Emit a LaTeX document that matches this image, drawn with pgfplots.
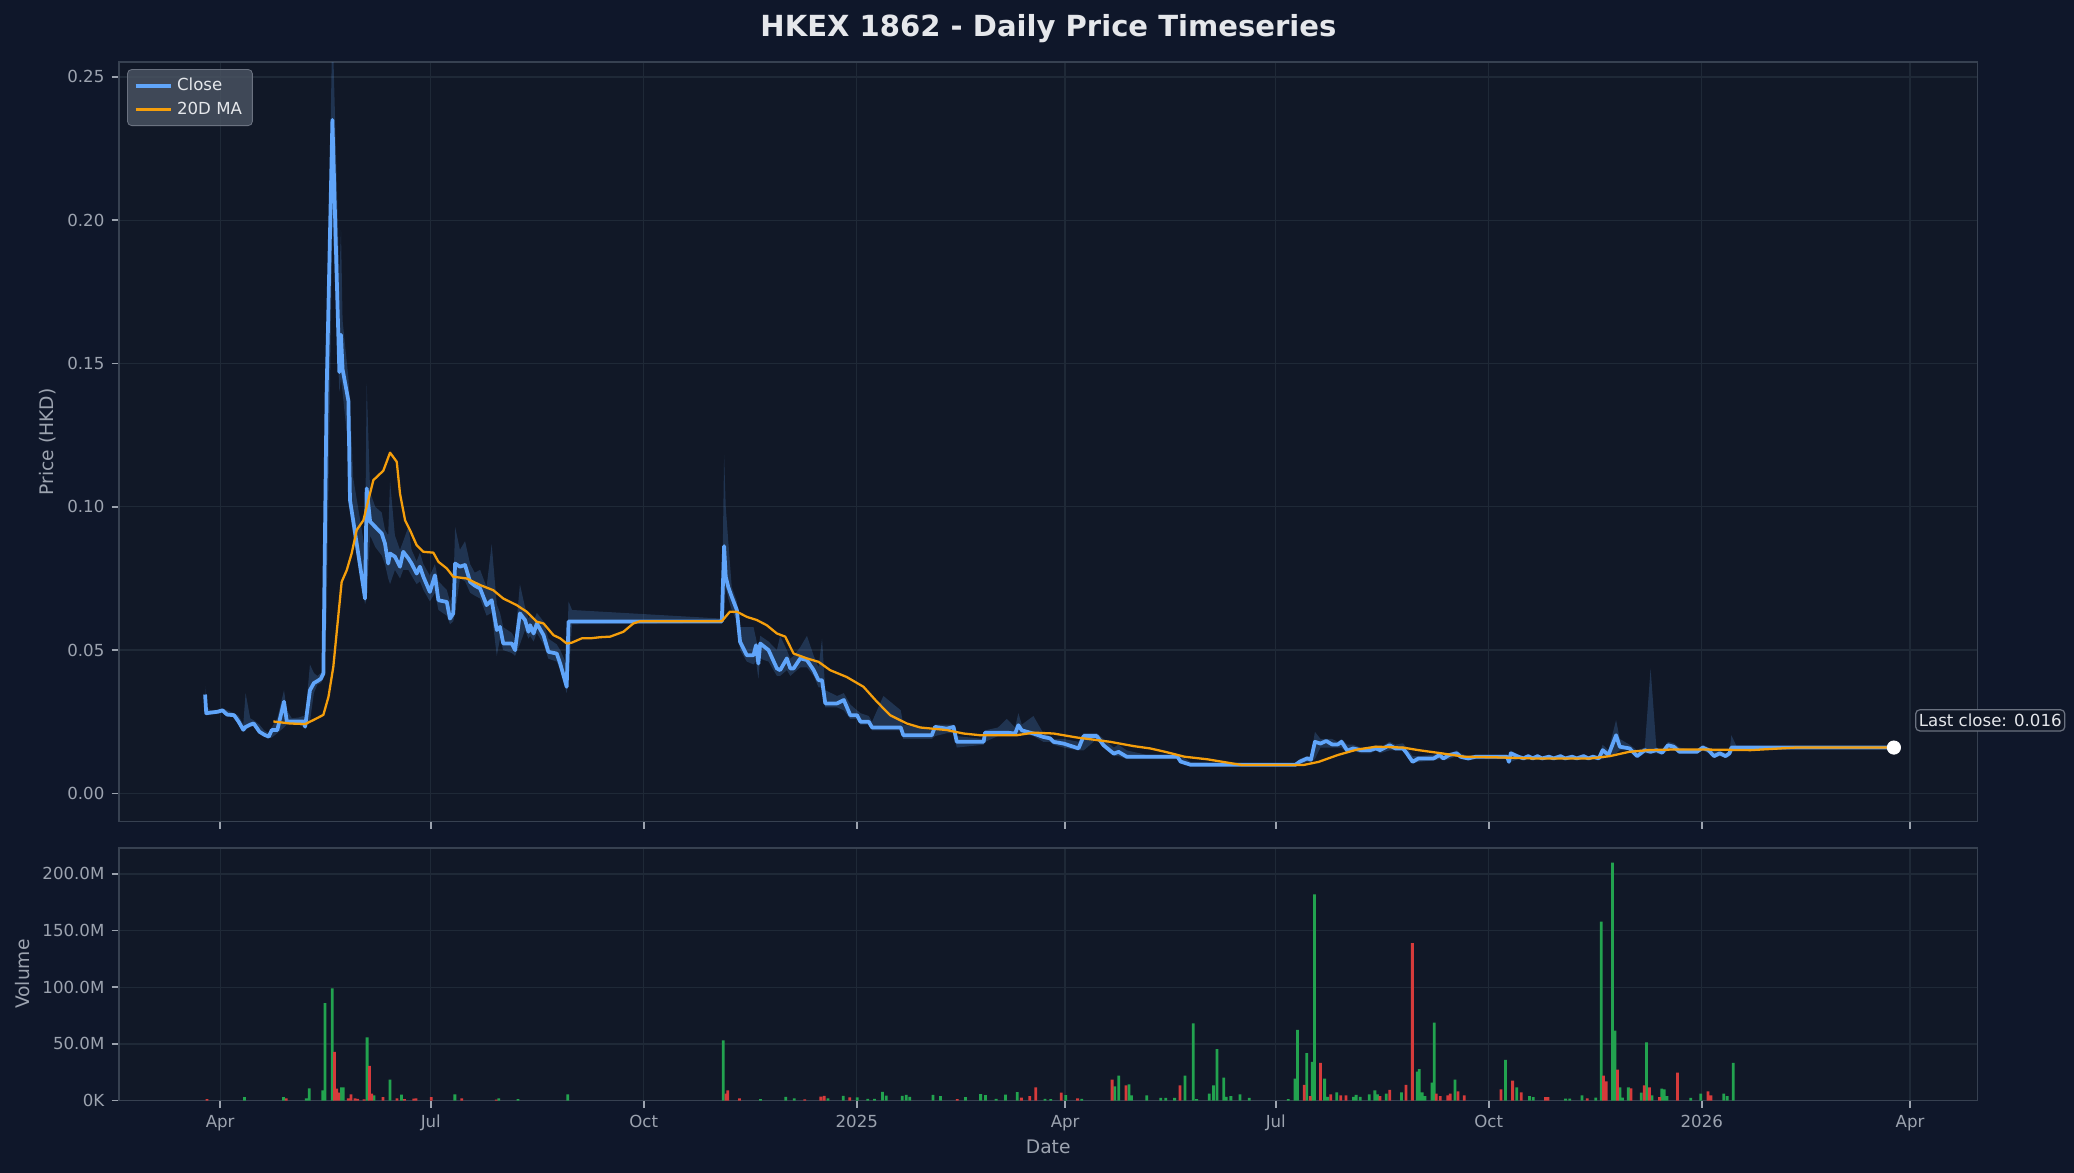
\documentclass[border=0pt]{standalone}
\usepackage{fontspec}
\setmainfont{DejaVu Sans}
\usepackage{pgfplots}
\usepackage{pgfplotstable}
\pgfplotsset{compat=1.18}
\usepgfplotslibrary{fillbetween}

\definecolor{figbg}{HTML}{0F172A}
\definecolor{axbg}{HTML}{111827}
\definecolor{gridc}{HTML}{1F2937}
\definecolor{spine}{HTML}{374151}
\definecolor{tickc}{HTML}{9CA3AF}
\definecolor{titlec}{HTML}{E5E7EB}
\definecolor{closec}{HTML}{60A5FA}
\definecolor{mac}{HTML}{F59E0B}
\definecolor{volg}{HTML}{22A34F}
\definecolor{volr}{HTML}{D63B3B}
\definecolor{legfill}{HTML}{4B5563}
\definecolor{legdraw}{HTML}{6B7280}
\pagecolor{figbg}

% day = days since 2024-04-01
\pgfplotstableread{
d c h l
-6.5 0.0345 0.0375 0.0330
-6.0 0.0280 0.0300 0.0272
-4.0 0.0282 0.0290 0.0275
-1.0 0.0285 0.0292 0.0278
1.0 0.0290 0.0296 0.0282
3.0 0.0275 0.0290 0.0270
6.0 0.0273 0.0280 0.0265
8.0 0.0250 0.0270 0.0245
10.0 0.0222 0.0240 0.0215
11.0 0.0232 0.0350 0.0222
13.0 0.0240 0.0262 0.0232
14.5 0.0244 0.0255 0.0235
17.0 0.0215 0.0240 0.0210
19.0 0.0205 0.0220 0.0200
21.0 0.0198 0.0210 0.0192
22.3 0.0221 0.0230 0.0195
24.7 0.0221 0.0262 0.0210
27.6 0.0320 0.0360 0.0230
28.8 0.0251 0.0290 0.0240
31.0 0.0251 0.0262 0.0240
34.0 0.0251 0.0265 0.0240
36.0 0.0251 0.0270 0.0232
36.7 0.0233 0.0260 0.0225
38.8 0.0360 0.0450 0.0250
40.5 0.0385 0.0420 0.0350
42.0 0.0392 0.0410 0.0380
43.5 0.0400 0.0420 0.0385
44.6 0.0418 0.0440 0.0400
46.0 0.1400 0.1500 0.0600
48.5 0.2350 0.2700 0.2000
51.5 0.1470 0.1800 0.1400
52.2 0.1600 0.1965 0.1450
52.9 0.1480 0.1650 0.1400
55.4 0.1370 0.1450 0.1200
56.1 0.1023 0.1370 0.0980
57.5 0.0951 0.1100 0.0900
62.6 0.0680 0.0850 0.0660
63.3 0.1064 0.1430 0.0680
64.8 0.0948 0.1050 0.0900
67.0 0.0930 0.1000 0.0860
69.8 0.0907 0.0980 0.0830
71.2 0.0872 0.0920 0.0800
72.6 0.0802 0.0900 0.0750
73.4 0.0837 0.1090 0.0730
75.5 0.0826 0.0900 0.0780
77.7 0.0791 0.0850 0.0750
79.1 0.0843 0.0880 0.0780
81.3 0.0820 0.0930 0.0780
82.7 0.0802 0.0850 0.0760
84.9 0.0767 0.0810 0.0730
86.3 0.0791 0.0840 0.0740
87.8 0.0756 0.0800 0.0710
90.6 0.0703 0.0760 0.0670
92.8 0.0761 0.0800 0.0700
94.3 0.0674 0.0740 0.0640
97.9 0.0668 0.0710 0.0620
99.3 0.0610 0.0670 0.0590
100.7 0.0628 0.0700 0.0600
101.5 0.0802 0.0930 0.0630
103.6 0.0791 0.0850 0.0750
105.8 0.0797 0.0880 0.0740
108.0 0.0738 0.0800 0.0700
110.0 0.0725 0.0770 0.0690
112.3 0.0715 0.0780 0.0680
115.1 0.0657 0.0720 0.0620
117.3 0.0674 0.0870 0.0630
119.5 0.0570 0.0660 0.0480
120.9 0.0581 0.0630 0.0540
122.3 0.0523 0.0580 0.0500
126.0 0.0523 0.0560 0.0490
127.4 0.0500 0.0540 0.0480
129.5 0.0628 0.0730 0.0520
131.7 0.0605 0.0650 0.0570
133.2 0.0564 0.0610 0.0540
133.9 0.0587 0.0620 0.0550
135.4 0.0558 0.0600 0.0530
136.8 0.0593 0.0630 0.0560
139.7 0.0552 0.0600 0.0520
141.8 0.0494 0.0540 0.0470
145.4 0.0488 0.0520 0.0460
146.9 0.0453 0.0500 0.0430
149.7 0.0372 0.0450 0.0350
150.5 0.0600 0.0670 0.0400
152.0 0.0600 0.0640 0.0590
216.7 0.0600 0.0610 0.0595
217.7 0.0863 0.1180 0.0600
218.4 0.0756 0.1000 0.0720
219.5 0.0720 0.0880 0.0680
221.0 0.0686 0.0720 0.0640
223.2 0.0640 0.0670 0.0600
224.6 0.0529 0.0580 0.0500
227.5 0.0482 0.0580 0.0460
230.4 0.0482 0.0580 0.0450
231.5 0.0517 0.0540 0.0460
232.5 0.0453 0.0500 0.0400
233.3 0.0523 0.0550 0.0470
236.9 0.0500 0.0530 0.0460
240.5 0.0436 0.0500 0.0410
241.9 0.0430 0.0550 0.0410
244.8 0.0471 0.0500 0.0430
246.3 0.0436 0.0470 0.0410
247.7 0.0436 0.0480 0.0420
250.6 0.0471 0.0510 0.0440
253.5 0.0465 0.0550 0.0440
256.4 0.0430 0.0480 0.0410
258.5 0.0395 0.0440 0.0370
260.0 0.0395 0.0540 0.0370
261.4 0.0314 0.0360 0.0300
266.5 0.0314 0.0340 0.0300
269.4 0.0326 0.0350 0.0290
272.2 0.0273 0.0310 0.0260
275.1 0.0273 0.0290 0.0260
276.6 0.0250 0.0280 0.0240
280.2 0.0250 0.0270 0.0240
281.6 0.0230 0.0250 0.0220
286.5 0.0230 0.0340 0.0220
294.0 0.0230 0.0290 0.0220
295.1 0.0203 0.0240 0.0190
307.4 0.0203 0.0220 0.0190
308.8 0.0232 0.0240 0.0200
313.9 0.0226 0.0240 0.0210
316.8 0.0232 0.0240 0.0210
318.2 0.0180 0.0200 0.0160
329.8 0.0180 0.0190 0.0170
330.4 0.0212 0.0220 0.0180
336.0 0.0212 0.0230 0.0200
339.8 0.0212 0.0260 0.0200
343.4 0.0209 0.0230 0.0200
344.8 0.0238 0.0280 0.0200
346.3 0.0220 0.0240 0.0210
351.3 0.0209 0.0270 0.0200
355.6 0.0197 0.0210 0.0180
358.5 0.0192 0.0200 0.0180
360.0 0.0180 0.0190 0.0170
364.3 0.0174 0.0190 0.0160
370.8 0.0157 0.0180 0.0150
373.0 0.0200 0.0210 0.0150
378.7 0.0200 0.0210 0.0190
381.6 0.0168 0.0190 0.0160
386.0 0.0139 0.0160 0.0130
388.1 0.0145 0.0170 0.0130
391.6 0.0128 0.0150 0.0120
400.0 0.0128 0.0135 0.0120
413.5 0.0128 0.0135 0.0120
414.9 0.0111 0.0130 0.0105
419.2 0.0100 0.0110 0.0095
464.5 0.0100 0.0102 0.0098
466.2 0.0110 0.0120 0.0100
469.5 0.0122 0.0130 0.0110
471.2 0.0118 0.0130 0.0110
472.9 0.0180 0.0215 0.0120
475.3 0.0174 0.0190 0.0160
477.8 0.0183 0.0190 0.0160
480.3 0.0171 0.0190 0.0160
482.8 0.0171 0.0180 0.0160
484.4 0.0180 0.0190 0.0160
486.9 0.0149 0.0170 0.0140
489.4 0.0157 0.0170 0.0150
492.7 0.0151 0.0160 0.0140
496.8 0.0151 0.0160 0.0140
499.3 0.0157 0.0170 0.0150
501.0 0.0151 0.0160 0.0140
505.1 0.0168 0.0180 0.0150
507.6 0.0157 0.0170 0.0150
510.9 0.0157 0.0175 0.0150
512.6 0.0140 0.0160 0.0130
515.1 0.0110 0.0130 0.0105
517.6 0.0122 0.0130 0.0110
524.2 0.0122 0.0135 0.0115
526.7 0.0134 0.0140 0.0120
528.4 0.0122 0.0135 0.0115
530.9 0.0134 0.0140 0.0120
534.2 0.0140 0.0150 0.0130
535.8 0.0128 0.0140 0.0120
539.1 0.0122 0.0130 0.0115
542.4 0.0128 0.0135 0.0120
550.0 0.0128 0.0135 0.0120
555.9 0.0128 0.0135 0.0120
556.7 0.0110 0.0130 0.0105
557.5 0.0140 0.0150 0.0110
560.8 0.0128 0.0135 0.0120
563.0 0.0122 0.0130 0.0118
565.0 0.0130 0.0136 0.0120
567.0 0.0122 0.0130 0.0118
569.0 0.0130 0.0136 0.0120
571.0 0.0122 0.0130 0.0118
574.0 0.0128 0.0135 0.0120
576.0 0.0122 0.0130 0.0118
579.0 0.0130 0.0136 0.0120
581.0 0.0122 0.0130 0.0118
584.0 0.0128 0.0135 0.0120
586.0 0.0122 0.0130 0.0118
589.0 0.0130 0.0136 0.0120
591.0 0.0122 0.0130 0.0118
593.0 0.0128 0.0135 0.0120
595.5 0.0122 0.0130 0.0118
597.2 0.0151 0.0170 0.0120
599.7 0.0134 0.0150 0.0130
603.0 0.0203 0.0256 0.0140
604.6 0.0163 0.0190 0.0150
608.8 0.0157 0.0170 0.0150
612.1 0.0130 0.0150 0.0125
615.4 0.0151 0.0160 0.0140
617.9 0.0145 0.0436 0.0140
620.4 0.0151 0.0160 0.0140
622.9 0.0142 0.0150 0.0135
625.4 0.0168 0.0180 0.0150
627.9 0.0163 0.0175 0.0150
630.4 0.0145 0.0160 0.0140
637.9 0.0145 0.0150 0.0140
640.4 0.0160 0.0170 0.0150
642.9 0.0151 0.0160 0.0140
645.3 0.0130 0.0150 0.0125
647.8 0.0140 0.0150 0.0130
650.3 0.0130 0.0140 0.0125
652.0 0.0140 0.0150 0.0130
652.8 0.0160 0.0203 0.0140
655.0 0.0160 0.0165 0.0158
723.0 0.0160 0.0160 0.0160
}\closedata

\pgfplotstableread{
d m
23.0 0.0251
30.2 0.0244
36.7 0.0242
40.3 0.0256
44.6 0.0274
46.8 0.0337
48.9 0.0442
50.3 0.0558
52.5 0.0738
54.7 0.0779
56.8 0.0837
59.0 0.0919
61.9 0.0953
63.3 0.1000
66.2 0.1093
70.5 0.1126
73.4 0.1189
76.3 0.1157
77.7 0.1046
79.9 0.0953
82.0 0.0919
84.9 0.0866
87.8 0.0843
92.1 0.0840
94.3 0.0808
97.9 0.0785
100.7 0.0756
106.5 0.0750
112.3 0.0727
118.0 0.0709
122.3 0.0680
128.1 0.0657
132.4 0.0634
136.8 0.0599
139.7 0.0593
144.0 0.0552
146.9 0.0541
149.7 0.0523
151.9 0.0526
156.2 0.0541
159.8 0.0541
164.1 0.0545
168.5 0.0547
174.2 0.0564
178.5 0.0593
181.4 0.0601
216.7 0.0601
220.2 0.0634
223.2 0.0634
227.5 0.0616
231.8 0.0605
236.1 0.0587
240.5 0.0558
244.1 0.0547
247.7 0.0488
253.5 0.0471
258.5 0.0459
263.5 0.0430
270.7 0.0406
277.9 0.0372
283.7 0.0320
289.4 0.0273
296.6 0.0244
302.4 0.0230
313.9 0.0221
321.1 0.0209
328.3 0.0203
344.1 0.0203
351.3 0.0212
360.0 0.0209
370.1 0.0195
384.5 0.0180
394.6 0.0165
401.7 0.0157
408.3 0.0145
416.6 0.0128
426.5 0.0119
441.4 0.0099
467.9 0.0099
474.5 0.0110
482.8 0.0134
491.1 0.0153
499.3 0.0163
510.9 0.0160
517.6 0.0151
527.5 0.0140
537.4 0.0128
550.7 0.0126
567.2 0.0122
592.0 0.0122
600.3 0.0130
608.6 0.0145
616.9 0.0151
626.8 0.0153
641.6 0.0153
661.1 0.0151
680.6 0.0160
723.0 0.0160
}\madata

% volume in millions
\pgfplotstableread{
d v
10.5 2.9
27.4 2.9
37.2 2.0
38.5 10.7
44.3 9.0
45.3 86
48.4 99
52.4 11.6
53.2 11.6
63.5 55.8
66.5 4.6
73.4 18.5
78.3 5.2
101.4 5.5
120.4 2.0
128.7 1.2
150.2 5.5
217.3 53
233.4 1.2
244.3 3.3
248.0 2.0
262.6 1.8
269.2 4.0
275.2 2.7
279.7 1.5
282.7 1.5
286.1 7.7
287.7 4.4
294.6 4.1
296.4 5.0
297.9 3.3
307.9 5.0
311.2 3.8
322.0 3.0
328.5 5.6
330.6 4.7
335.2 1.5
339.2 5.3
344.3 7.4
356.3 1.5
358.8 1.2
365.3 4.8
372.2 1.5
386.4 12.4
388.2 22
392.6 14.2
393.7 4.6
400.3 4.6
406.3 2.3
408.5 2.3
412.3 2.3
416.8 22
420.3 68
421.8 1.2
427.3 6
429.1 13.3
430.6 45.4
433.5 20.2
434.6 3.2
436.6 3.8
440.5 5.5
444.5 2.3
461.4 1.2
464.3 19.4
465.4 62.4
469.4 41.9
471.8 34.1
472.7 182
477.1 19.4
478.4 3.2
482.3 7.2
489.6 3.2
490.7 4.9
492.5 3.2
496.4 5.5
498.8 9.0
499.9 5.5
503.7 6.0
510.3 7.2
517.1 25.4
518.0 27.7
519.3 7.2
520.4 3.8
523.5 15.9
524.4 68.8
533.4 18.5
555.2 35.8
560.1 11.6
565.6 3.8
567.2 2.9
581.2 1.7
583.0 1.7
588.3 4.6
594.2 2.6
596.6 158
601.4 210
602.5 61.8
604.7 11.6
605.8 2.6
608.3 11.6
613.9 6.9
616.1 51.4
618.5 4.6
622.7 10.4
623.8 9.8
625.0 3.8
635.2 2.3
639.6 6.0
649.5 6.0
651.0 3.8
653.6 33.2
}\volgreen

\pgfplotstableread{
d v
-5.7 1.2
28.6 2.0
49.4 43
50.4 10.4
51.2 7
55.3 2.0
56.5 5.5
58.3 2.0
59.4 1.4
62.2 1.0
64.5 30.6
65.5 6.0
70.4 2.9
76.4 2.0
79.6 1.2
83.6 1.7
84.6 2.0
91.2 2.9
104.4 2.0
119.3 0.9
218.5 6.0
219.3 9.0
224.3 2.0
252.5 1.0
259.5 3.5
261.0 4.0
272.0 2.7
318.4 1.2
346.1 2.6
349.7 3.8
352.3 11.6
363.3 6.9
370.4 2.0
385.3 18.5
391.3 13.3
414.6 13.3
468.3 13.9
470.9 3.8
475.3 33.2
479.7 5.5
484.1 4.6
486.3 4.6
501.0 3.8
505.2 9.5
512.2 13.9
515.0 139
525.3 6.0
527.0 3.8
530.3 4.6
531.4 6.0
534.7 8.1
537.4 4.6
553.3 9.8
558.3 17.6
562.0 7.2
572.5 2.9
573.6 2.9
590.5 2.0
597.6 22
598.7 17
603.6 27.2
609.4 10.7
615.2 13.3
617.4 11.6
621.8 2.9
629.5 24.6
642.7 8.1
644.0 4.6
}\volred

\pgfplotsset{
  darkaxis/.style={
    scale only axis,
    width=895.2pt,
    xmin=-43.7, xmax=759.1,
    axis background/.style={fill=axbg},
    axis line style={draw=spine, line width=0.9pt},
    grid=major,
    major grid style={draw=gridc, line width=0.6pt},
    tick align=outside,
    xtick pos=bottom, ytick pos=left,
    major tick length=3.5pt,
    tick style={draw=tickc, line width=0.8pt},
    ticklabel style={font=\fontsize{8}{9.6}\selectfont, text=tickc},
    label style={font=\fontsize{9}{10.8}\selectfont, text=tickc},
    xtick={0,91,183,275,365,456,548,640,730},
  },
}

\begin{document}%
\begin{tikzpicture}
\path (0,0) rectangle (999pt,565pt);

% ---------------- price panel ----------------
\begin{axis}[darkaxis,
  at={(57.3pt,169.3pt)}, anchor=south west,
  height=365.7pt,
  ymin=-0.0098, ymax=0.2551,
  ytick={0,0.05,0.10,0.15,0.20,0.25},
  yticklabels={0.00,0.05,0.10,0.15,0.20,0.25},
  xticklabels={},
  ylabel={Price (HKD)},
  ylabel style={at={(axis description cs:-0.0384,0.5)}, anchor=center},
  legend style={at={(axis description cs:0.0044,0.991)}, anchor=north west,
    fill=legfill, fill opacity=0.8, draw opacity=1, text opacity=1,
    draw=legdraw, rounded corners=2pt, text=titlec,
    font=\fontsize{8}{9.6}\selectfont, inner xsep=3pt, inner ysep=2pt, row sep=0pt},
  legend cell align=left,
]
\addplot[name path=hi, draw=none, forget plot] table[x=d, y=h] {\closedata};
\addplot[name path=lo, draw=none, forget plot] table[x=d, y=l] {\closedata};
\addplot[fill=closec, fill opacity=0.2, draw=none, forget plot] fill between[of=hi and lo];
\addplot[closec, line width=1.8pt, line join=round] table[x=d, y=c] {\closedata};
\addlegendentry{Close}
\addplot[mac, line width=1.1pt, line join=round] table[x=d, y=m] {\madata};
\addlegendentry{20D MA}
\addplot[only marks, mark=*, mark size=3.2pt, mark options={fill=white, draw=white}, forget plot] coordinates {(723,0.016)};
\coordinate (lastc) at (axis cs:723,0.016);
\end{axis}

\node[anchor=west, fill=axbg, draw=legdraw, rounded corners=2pt, text=titlec,
  font=\fontsize{8}{9.6}\selectfont, inner xsep=1.5pt, inner ysep=2pt, line width=0.6pt]
  at ([xshift=10.2pt, yshift=13.1pt]lastc) {Last close: 0.016};

% ---------------- volume panel ----------------
\begin{axis}[darkaxis,
  at={(57.3pt,34.9pt)}, anchor=south west,
  height=121.7pt,
  ymin=0, ymax=223,
  ytick={0,50,100,150,200},
  yticklabels={0K,50.0M,100.0M,150.0M,200.0M},
  xticklabels={Apr,Jul,Oct,2025,Apr,Jul,Oct,2026,Apr},
  xlabel={Date},
  xlabel style={at={(axis description cs:0.5,-0.183)}, anchor=center},
  ylabel={Volume},
  ylabel style={at={(axis description cs:-0.0519,0.5)}, anchor=center},
]
\addplot[ybar, bar width=1.2, bar shift=0pt, fill=volg, draw=none] table[x=d, y=v] {\volgreen};
\addplot[ybar, bar width=1.2, bar shift=0pt, fill=volr, draw=none] table[x=d, y=v] {\volred};
\end{axis}

\node[font=\fontsize{14}{17}\selectfont\bfseries, text=titlec] at (505pt,551pt) {HKEX 1862 - Daily Price Timeseries};

\pgfresetboundingbox
\useasboundingbox (0,0) rectangle (999pt,565pt);
\end{tikzpicture}%
\end{document}
